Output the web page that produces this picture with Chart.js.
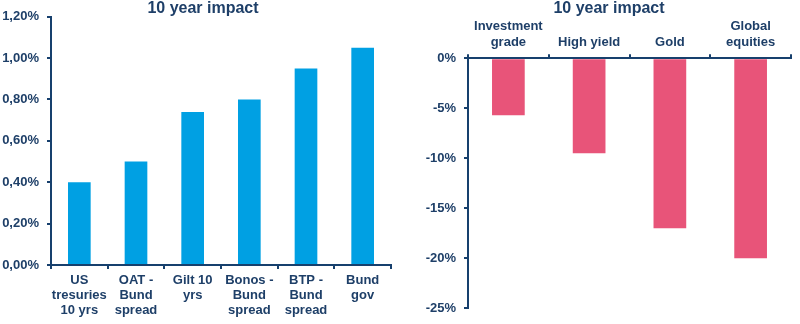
<!DOCTYPE html>
<html>
<head>
<meta charset="utf-8">
<script src="https://cdn.jsdelivr.net/npm/chart.js@4/dist/chart.umd.min.js"></script>
<style>
  html, body { margin: 0; padding: 0; background: #fff; }
  #wrap { position: relative; width: 800px; height: 324px; }
  #left, #right { position: absolute; top: 0; }
  #left { left: 0; }
  #right { left: 400px; }
</style>
</head>
<body>
<div id="wrap">
  <canvas id="left" width="400" height="324"></canvas>
  <canvas id="right" width="400" height="324"></canvas>
</div>
<script>
// bond spreads / yields, 10 year impact (in %)
var bondLabels = [["US", "tresuries", "10 yrs"], ["OAT -", "Bund", "spread"], ["Gilt 10", "yrs"],
                  ["Bonos -", "Bund", "spread"], ["BTP -", "Bund", "spread"], ["Bund", "gov"]];
var bondValues = [0.40, 0.50, 0.74, 0.80, 0.95, 1.05];

// asset returns, 10 year impact (in %)
var assetLabels = [["Investment", "grade"], "High yield", "Gold", ["Global", "equities"]];
var assetValues = [-5.7, -9.5, -17, -20];

var chartTitle = "10 year impact";

var navy = "#17406d";
var textNavy = "#1e3f68";
var blue = "#00a0e3";
var pink = "#e85479";

Chart.defaults.font.family = "'Liberation Sans', Arial, sans-serif";
Chart.defaults.font.weight = "bold";
Chart.defaults.font.size = 13;
Chart.defaults.color = textNavy;

function fixWidth(w) { return function (s) { s.width = w; }; }
function fixHeight(h) { return function (s) { s.height = h; }; }

// the heading sits a little off the canvas centre, so draw it by hand
function headingAt(cx) {
  return {
    id: "heading",
    afterDraw: function (chart) {
      var ctx = chart.ctx;
      ctx.save();
      ctx.font = "bold 16px 'Liberation Sans', Arial, sans-serif";
      ctx.fillStyle = textNavy;
      ctx.textAlign = "center";
      ctx.textBaseline = "alphabetic";
      ctx.fillText(chartTitle, cx, 12.8);
      ctx.restore();
    }
  };
}

var axisGrid = { display: true, drawOnChartArea: false, drawTicks: true, tickLength: 4, color: navy, lineWidth: 2 };
var axisBorder = { display: true, color: navy, width: 2 };

new Chart(document.getElementById("left"), {
  type: "bar",
  data: {
    labels: bondLabels,
    datasets: [{ data: bondValues, backgroundColor: blue, categoryPercentage: 1, barPercentage: 0.4 }]
  },
  options: {
    responsive: false,
    animation: false,
    layout: { padding: { left: 0, right: 9, top: 16.7, bottom: 0 } },
    plugins: { legend: { display: false }, tooltip: { enabled: false } },
    scales: {
      x: {
        grid: axisGrid, border: axisBorder,
        ticks: { maxRotation: 0, autoSkip: false, padding: 4, font: { lineHeight: 1.15 } },
        afterFit: fixHeight(59)
      },
      y: {
        min: 0, max: 1.2,
        grid: axisGrid, border: axisBorder,
        ticks: {
          stepSize: 0.2, padding: 8,
          callback: function (v) { return v.toFixed(2).replace(".", ",") + "%"; }
        },
        afterFit: fixWidth(51)
      }
    }
  },
  plugins: [headingAt(203)]
});

new Chart(document.getElementById("right"), {
  type: "bar",
  data: {
    labels: assetLabels,
    datasets: [{ data: assetValues, backgroundColor: pink, categoryPercentage: 1, barPercentage: 0.405 }]
  },
  options: {
    responsive: false,
    animation: false,
    layout: { padding: { left: 0, right: 9, top: 16.7, bottom: 9 } },
    plugins: { legend: { display: false }, tooltip: { enabled: false } },
    scales: {
      x: {
        position: "top",
        grid: axisGrid, border: axisBorder,
        ticks: { maxRotation: 0, autoSkip: false, padding: 4, font: { lineHeight: 1.2 } },
        afterFit: fixHeight(41.6)
      },
      y: {
        min: -25, max: 0,
        grid: axisGrid, border: axisBorder,
        ticks: {
          stepSize: 5, padding: 8,
          callback: function (v) { return v + "%"; }
        },
        afterFit: fixWidth(68)
      }
    }
  },
  plugins: [headingAt(209)]
});
</script>
</body>
</html>
